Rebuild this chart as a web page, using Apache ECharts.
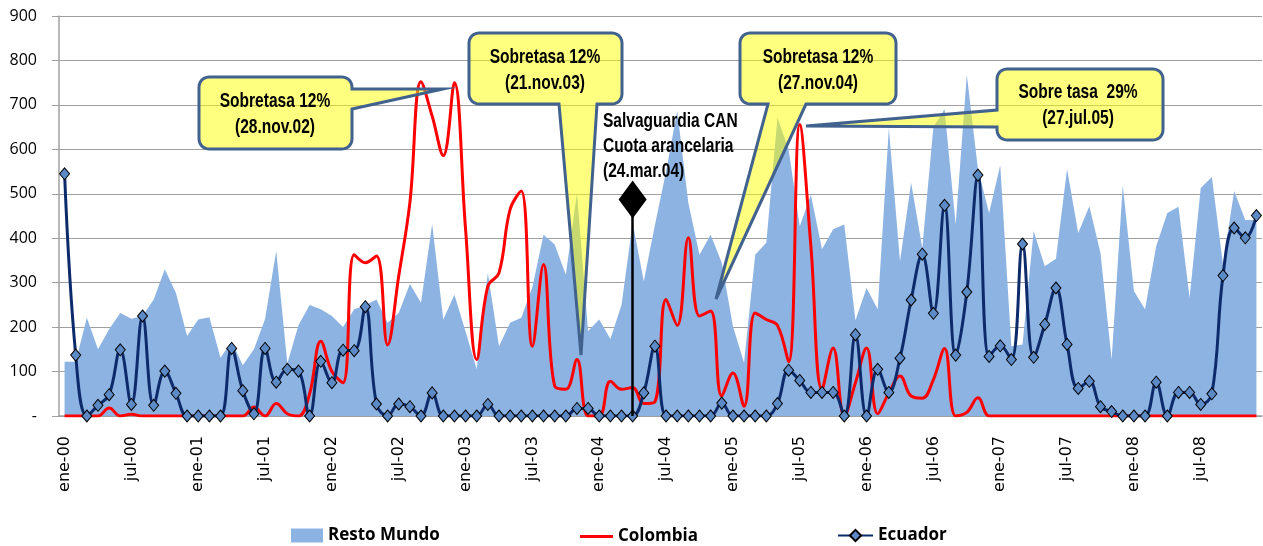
<!DOCTYPE html>
<html>
<head>
<meta charset="utf-8">
<title>Importaciones mensuales</title>
<script src="https://cdn.jsdelivr.net/npm/echarts@6/dist/echarts.min.js"></script>
<style>
  html, body { margin: 0; padding: 0; background: #fff; }
  #grafico { width: 1263px; height: 546px; }
</style>
</head>
<body>
<div id="grafico"></div>
<script>
// eje de categorías: meses ene-00 ... dic-08
var meses = ['ene', 'feb', 'mar', 'abr', 'may', 'jun', 'jul', 'ago', 'sep', 'oct', 'nov', 'dic'];
var anios = ['00', '01', '02', '03', '04', '05', '06', '07', '08'];
var categorias = [];
anios.forEach(function (a) {
  meses.forEach(function (m) { categorias.push(m + '-' + a); });
});

// eje Y
var yMax = 900;
var yPaso = 100;

// series (un renglón por año)
var restoMundo = [
  122, 122, 221, 150, 195, 232, 219, 225, 262, 330, 277, 180,
  217, 222, 131, 168, 114, 150, 218, 371, 118, 204, 250, 240,
  225, 200, 240, 249, 262, 210, 232, 297, 255, 432, 217, 273,
  190, 105, 322, 157, 210, 221, 290, 408, 386, 318, 502, 191,
  217, 173, 250, 435, 303, 430, 550, 686, 480, 363, 408, 345,
  202, 120, 363, 390, 671, 600, 427, 498, 375, 420, 431, 215,
  288, 240, 648, 348, 525, 378, 650, 690, 431, 768, 555, 457,
  564, 157, 161, 416, 337, 354, 556, 412, 472, 367, 127, 519,
  281, 240, 382, 457, 471, 266, 513, 538, 341, 506, 441, 441
];
var colombia = [
  0, 0, 0, 0, 18, 0, 4, 0, 0, 0, 0, 0,
  0, 0, 0, 0, 0, 20, 0, 28, 5, 0, 50, 168,
  100, 75, 363, 345, 360, 160, 315, 480, 752, 675, 586, 750,
  420, 127, 292, 322, 465, 506, 157, 341, 67, 60, 127, 0,
  0, 78, 60, 64, 28, 32, 262, 204, 401, 225, 236, 45,
  97, 22, 232, 217, 204, 122, 656, 382, 60, 153, 0, 75,
  153, 5, 52, 90, 45, 40, 82, 152, 0, 8, 41, 0,
  0, 0, 0, 0, 0, 0, 0, 0, 0, 0, 0, 0,
  0, 0, 0, 0, 0, 0, 0, 0, 0, 0, 0, 0
];
var ecuador = [
  545, 137, 0, 24, 48, 149, 26, 225, 24, 101, 51, 0,
  0, 0, 0, 152, 57, 5, 152, 76, 105, 101, 0, 123,
  75, 148, 147, 246, 27, 0, 27, 21, 0, 52, 0, 0,
  0, 0, 26, 0, 0, 0, 0, 0, 0, 0, 17, 17,
  0, 0, 0, 0, 52, 157, 0, 0, 0, 0, 0, 29,
  0, 0, 0, 0, 28, 103, 80, 53, 53, 53, 0, 183,
  0, 105, 53, 130, 261, 364, 231, 474, 137, 279, 542, 134,
  158, 127, 387, 132, 206, 288, 161, 62, 78, 21, 10, 0,
  0, 0, 76, 0, 53, 53, 26, 50, 316, 423, 401, 451
];

// salvaguardia (marca vertical)
var salvaguardiaMes = 'abr-04';
var salvaguardiaAlto = 487;

// letra angosta: Liberation Sans comprimida en horizontal
var fuenteNotas = "bold 21px 'Liberation Sans', Arial, sans-serif";
var angosto = 0.74;
var amarillo = 'rgba(255,255,0,0.5)';
var bordeGlobo = '#41618F';

// globo de texto: rectángulo redondeado con punta
function globo(x0, y0, x1, y1, lado, b1, b2, punta) {
  var r = 10, pts = [];
  function arco(cx, cy, a0) {
    for (var k = 0; k <= 6; k++) {
      var a = (a0 + k * 15) * Math.PI / 180;
      pts.push([cx + r * Math.cos(a), cy + r * Math.sin(a)]);
    }
  }
  arco(x0 + r, y0 + r, 180);
  arco(x1 - r, y0 + r, 270);
  if (lado === 'right') pts.push([x1, b1], punta, [x1, b2]);
  arco(x1 - r, y1 - r, 0);
  if (lado === 'bottom') pts.push([b2, y1], punta, [b1, y1]);
  arco(x0 + r, y1 - r, 90);
  if (lado === 'left') pts.push([x0, b2], punta, [x0, b1]);
  return pts;
}

function nota(pts, texto, cx, cy) {
  return [
    { type: 'polygon', z: 100, shape: { points: pts },
      style: { fill: amarillo, stroke: bordeGlobo, lineWidth: 3 } },
    { type: 'text', z: 101, x: cx, y: cy, scaleX: angosto,
      style: { text: texto, font: fuenteNotas, fill: '#000', align: 'center', verticalAlign: 'middle', lineHeight: 26 } }
  ];
}

var graficos = [].concat(
  nota(globo(199, 77, 352, 149, 'right', 89, 109, [443, 89]), 'Sobretasa 12%\n(28.nov.02)', 275, 114),
  nota(globo(469, 33, 622, 104, 'bottom', 559, 597, [581, 355]), 'Sobretasa 12%\n(21.nov.03)', 545, 70),
  nota(globo(740, 33, 896, 104, 'bottom', 768, 806, [716, 299]), 'Sobretasa 12%\n(27.nov.04)', 818, 70),
  nota(globo(997, 69, 1163, 140, 'left', 110, 127, [806, 126]), 'Sobre tasa  29%\n(27.jul.05)', 1078, 105),
  [{ type: 'text', z: 101, x: 603, y: 109, scaleX: angosto,
     style: { text: 'Salvaguardia CAN\nCuota arancelaria\n(24.mar.04)', font: fuenteNotas, fill: '#000',
              align: 'left', verticalAlign: 'top', lineHeight: 25 } }]
);

var textoLeyenda = { fontFamily: 'Open Sans', fontWeight: 'bold', fontSize: 17, color: '#000' };

var grafico = echarts.init(document.getElementById('grafico'));
var opcion = {
  animation: false,
  grid: { left: 59, right: 1, top: 16, bottom: 130, outerBoundsMode: 'none' },
  legend: [
    { left: 291, top: 527, padding: 0, itemWidth: 32, itemHeight: 14, textStyle: textoLeyenda,
      data: [{ name: 'Resto Mundo', icon: 'rect' }] },
    { left: 580, top: 528, padding: 0, itemWidth: 33, itemHeight: 3, textStyle: textoLeyenda,
      data: [{ name: 'Colombia', icon: 'rect' }] },
    { left: 837, top: 527, padding: 0, itemWidth: 35, itemHeight: 14, textStyle: textoLeyenda,
      data: ['Ecuador'] }
  ],
  xAxis: {
    type: 'category',
    data: categorias,
    boundaryGap: true,
    axisLine: { lineStyle: { color: '#A0A0A0', width: 1.5 } },
    axisTick: { interval: 5, length: 5, lineStyle: { color: '#A0A0A0' } },
    axisLabel: { interval: 5, rotate: 90, margin: 20, color: '#000',
                 fontFamily: 'DejaVu Sans', fontSize: 16 },
    splitLine: { show: false }
  },
  yAxis: {
    type: 'value',
    min: 0,
    max: yMax,
    interval: yPaso,
    axisLine: { show: true, lineStyle: { color: '#A0A0A0', width: 1.5 } },
    axisTick: { show: true, length: 7, lineStyle: { color: '#A0A0A0' } },
    axisLabel: { margin: 22, color: '#000', fontFamily: 'Open Sans', fontSize: 16,
                 formatter: function (v) { return v === 0 ? '-' : v; } },
    splitLine: { show: true, lineStyle: { color: '#A0A0A0', width: 1.2 } }
  },
  series: [
    {
      name: 'Resto Mundo',
      type: 'line',
      data: restoMundo,
      symbol: 'none',
      lineStyle: { width: 0 },
      itemStyle: { color: '#8DB3E2' },
      areaStyle: { color: '#8DB3E2', opacity: 1 },
      z: 1
    },
    {
      name: 'Colombia',
      type: 'line',
      data: colombia,
      symbol: 'none',
      smooth: 0.4,
      lineStyle: { color: '#FF0000', width: 3 },
      itemStyle: { color: '#FF0000' },
      z: 2
    },
    {
      name: 'Ecuador',
      type: 'line',
      data: ecuador,
      smooth: 0.4,
      symbol: 'diamond',
      symbolSize: [10, 12],
      showAllSymbol: true,
      lineStyle: { color: '#0D2A6A', width: 3 },
      itemStyle: { color: '#5B8AC6', borderColor: '#000', borderWidth: 1 },
      z: 3,
      markLine: {
        silent: true,
        symbol: ['none', 'none'],
        label: { show: false },
        lineStyle: { color: '#000', width: 2.5, type: 'solid' },
        data: [[{ coord: [salvaguardiaMes, 0] }, { coord: [salvaguardiaMes, salvaguardiaAlto] }]]
      },
      markPoint: {
        silent: true,
        symbol: 'diamond',
        symbolSize: [28, 38],
        itemStyle: { color: '#000', borderWidth: 0 },
        label: { show: false },
        data: [{ coord: [salvaguardiaMes, salvaguardiaAlto] }]
      }
    }
  ],
  graphic: graficos
};
grafico.setOption(opcion);
</script>
</body>
</html>
